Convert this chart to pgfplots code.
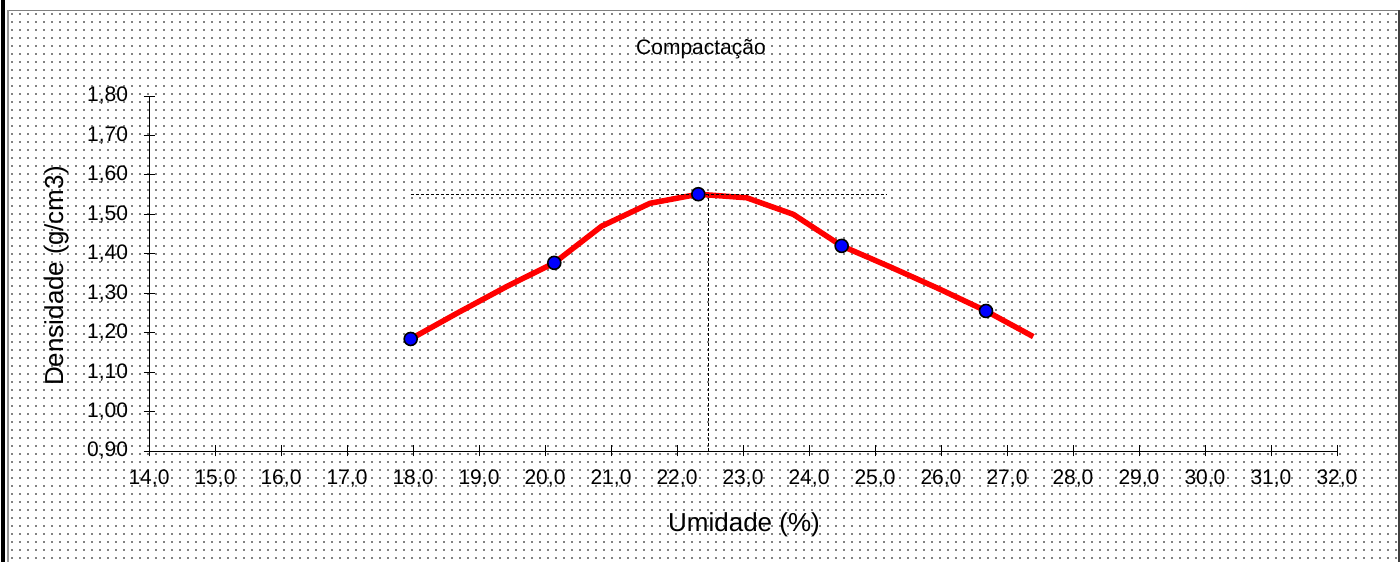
\documentclass[border=0pt]{standalone}
\usepackage{pgfplots}
\pgfplotsset{compat=1.18}
\usepackage{fontspec}
\setmainfont{Liberation Sans}
\usetikzlibrary{patterns}
\pgfdeclarepatternformonly{bgdots}{\pgfpoint{-1pt}{-1pt}}{\pgfpoint{9pt}{9pt}}{\pgfpoint{8pt}{8pt}}{%
  \pgfpathrectangle{\pgfpoint{3pt}{3pt}}{\pgfpoint{1.8pt}{1.8pt}}\pgfusepath{fill}}
\definecolor{dotgray}{RGB}{130,130,130}

\begin{document}
\begin{tikzpicture}[x=1pt,y=1pt]
\useasboundingbox (0,0) rectangle (1400,562);
\fill[white] (0,0) rectangle (1400,562);
\fill[pattern=bgdots, pattern color=dotgray] (9,0) rectangle (1397,550.5);
\draw[gray, line width=1.5pt] (8,551.5) -- (1398,551.5);
\draw[gray!80, line width=1.5pt] (8,0) -- (8,551.5);
\draw[black, line width=3.5pt] (3,0) -- (3,562);
\draw[black!75, line width=2.5pt] (1398.75,0) -- (1398.75,552);

\node[anchor=base, font=\fontsize{21}{24}\selectfont] at (701,507) {Compactação};
\node[rotate=90, anchor=base, font=\fontsize{26}{30}\selectfont] at (63,286) {Densidade (g/cm3)};
\node[anchor=base, font=\fontsize{26}{30}\selectfont] at (744,30) {Umidade (\%)};

\begin{axis}[
  at={(149pt,111pt)}, anchor=south west,
  scale only axis, width=1188pt, height=355pt,
  xmin=14, xmax=32, ymin=0.9, ymax=1.8,
  axis x line=bottom, axis y line=left,
  axis line style={-, black, line width=0.8pt},
  tick align=center, major tick length=11pt,
  tick style={black, line width=0.8pt},
  xtick={14,15,16,17,18,19,20,21,22,23,24,25,26,27,28,29,30,31,32},
  ytick={0.9,1.0,1.1,1.2,1.3,1.4,1.5,1.6,1.7,1.8},
  /pgf/number format/assume math mode=true,
  xticklabel style={font=\fontsize{21}{21}\selectfont, yshift=-10pt,
     /pgf/number format/.cd, fixed, fixed zerofill, precision=1, use comma},
  yticklabel style={font=\fontsize{21}{21}\selectfont, xshift=-12pt,
     /pgf/number format/.cd, fixed, fixed zerofill, precision=2, use comma},
  clip=false,
]
\addplot[red, line width=5.5pt, line join=round] coordinates {
  (17.965,1.184) (18.686,1.251) (19.420,1.317) (20.141,1.377)
  (20.859,1.470) (21.591,1.528) (22.323,1.551) (23.056,1.542)
  (23.762,1.500) (24.495,1.420) (25.227,1.367) (25.959,1.312)
  (26.682,1.255) (27.398,1.190)
};
\addplot[black, line width=0.8pt, dash pattern=on 3pt off 2pt] coordinates {(17.965,1.551) (25.18,1.551)};
\addplot[black, line width=0.8pt, dash pattern=on 3pt off 2pt] coordinates {(22.477,0.9) (22.477,1.551)};
\addplot[only marks, mark=*, mark size=6.5pt, mark options={fill=blue, draw=black, line width=1.6pt}] coordinates {
  (17.965,1.184) (20.141,1.377) (22.323,1.551) (24.495,1.420) (26.682,1.255)
};
\end{axis}
\end{tikzpicture}
\end{document}
